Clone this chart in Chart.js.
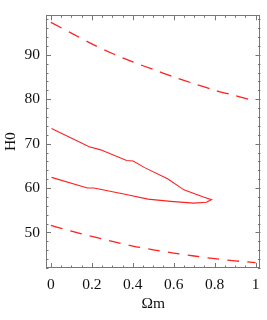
<!DOCTYPE html>
<html>
<head>
<meta charset="utf-8">
<script src="https://cdn.jsdelivr.net/npm/chart.js@4/dist/chart.umd.min.js"></script>
<style>
html,body{margin:0;padding:0;background:#fff;}
#c{display:block;}
</style>
</head>
<body>
<canvas id="c" width="267" height="320"></canvas>
<script>
// ---- data ----
const omegaGrid = [0, 0.1, 0.2, 0.3, 0.4, 0.5, 0.6, 0.7, 0.8, 0.9, 1.0];
const h0UpperBound = [97.3, 94.9, 92.45, 90.3, 88.4, 86.7, 85.0, 83.5, 82.05, 80.8, 79.6];
const h0LowerBound = [51.6, 50.3, 49.1, 48.0, 46.95, 46.1, 45.35, 44.7, 44.1, 43.6, 43.2];

// closed confidence contour (upper branch then lower branch back)
const contourOmega = [0.003, 0.187, 0.243, 0.37, 0.402, 0.458, 0.57, 0.65, 0.745, 0.785, 0.76, 0.697, 0.585, 0.474, 0.362, 0.21, 0.178, 0.003];
const contourH0    = [73.4, 69.3, 68.6, 66.2, 66.1, 64.6, 62.1, 59.6, 58.0, 57.4, 56.8, 56.6, 57.0, 57.5, 58.6, 60.0, 60.0, 62.4];

const xTickValues = [0, 0.2, 0.4, 0.6, 0.8, 1];
const xTickLabels = ['0', '0.2', '0.4', '0.6', '0.8', '1'];
const yTickValues = [50, 60, 70, 80, 90];
const yTickLabels = ['50', '60', '70', '80', '90'];

const xTitle = 'Ωm';
const yTitle = 'H0';

const toPts = (xs, ys) => xs.map((x, i) => ({x: x, y: ys[i]}));

const FONT = 'Liberation Serif';
const FSIZE = 15.5;
const RED = '#ff2020';

const framePlugin = {
  id: 'frame',
  afterDatasetsDraw(chart) {
    const {ctx, chartArea: a, scales} = chart;
    const xs = scales.x, ys = scales.y;
    ctx.save();
    ctx.strokeStyle = '#777';
    ctx.lineWidth = 1;
    ctx.beginPath();
    // x ticks (major every 0.2, minor every 0.05)
    for (let i = 0; i <= 20; i++) {
      const v = i * 0.05;
      const len = (i % 4 === 0) ? 5 : 2.5;
      const px = Math.round(xs.getPixelForValue(v)) + 0.5;
      ctx.moveTo(px, a.bottom); ctx.lineTo(px, a.bottom - len);
      ctx.moveTo(px, a.top); ctx.lineTo(px, a.top + len);
    }
    // y ticks (major every 10, minor every 2)
    for (let v = 42; v <= 98; v += 2) {
      const len = (v % 10 === 0) ? 5 : 2.5;
      const py = Math.round(ys.getPixelForValue(v)) + 0.5;
      ctx.moveTo(a.left, py); ctx.lineTo(a.left + len, py);
      ctx.moveTo(a.right, py); ctx.lineTo(a.right - len, py);
    }
    ctx.stroke();
    ctx.strokeRect(Math.round(a.left) + 0.5, Math.round(a.top) + 0.5,
                   Math.round(a.right - a.left) - 1, Math.round(a.bottom - a.top) - 1);
    ctx.restore();
  }
};

new Chart(document.getElementById('c'), {
  type: 'scatter',
  data: {
    datasets: [
      {data: toPts(omegaGrid, h0UpperBound), showLine: true, borderColor: RED, borderWidth: 1.3,
       borderDash: [12, 8], pointRadius: 0, tension: 0.3, fill: false},
      {data: toPts(omegaGrid, h0LowerBound), showLine: true, borderColor: RED, borderWidth: 1.3,
       borderDash: [12, 8], pointRadius: 0, tension: 0.3, fill: false},
      {data: toPts(contourOmega, contourH0), showLine: true, borderColor: RED, borderWidth: 1.1,
       pointRadius: 0, tension: 0, fill: false}
    ]
  },
  options: {
    responsive: false,
    animation: false,
    events: [],
    layout: {padding: {top: 5, right: 2, left: 0, bottom: 0}},
    plugins: {legend: {display: false}, tooltip: {enabled: false}},
    scales: {
      x: {
        type: 'linear', min: -0.024, max: 1.024,
        afterFit(s) { s.height = 52; },
        afterBuildTicks(s) { s.ticks = xTickValues.map(v => ({value: v})); },
        grid: {display: false, drawTicks: false},
        border: {display: false},
        ticks: {
          padding: 7.5, color: '#111', maxRotation: 0, autoSkip: false,
          font: {family: FONT, size: FSIZE},
          callback: (v) => xTickLabels[xTickValues.indexOf(v)] ?? ''
        },
        title: {display: true, text: xTitle, color: '#111', font: {family: FONT, size: FSIZE},
                padding: {top: 0, bottom: 6.5}}
      },
      y: {
        type: 'linear', min: 42.0, max: 98.9,
        afterFit(s) { s.width = 46; },
        afterBuildTicks(s) { s.ticks = yTickValues.map(v => ({value: v})); },
        grid: {display: false, drawTicks: false},
        border: {display: false},
        ticks: {
          padding: 6, color: '#111', autoSkip: false,
          font: {family: FONT, size: FSIZE},
          callback: (v) => yTickLabels[yTickValues.indexOf(v)] ?? ''
        },
        title: {display: true, text: yTitle, color: '#111', font: {family: FONT, size: FSIZE},
                padding: {top: 2, bottom: 0}}
      }
    }
  },
  plugins: [framePlugin]
});
</script>
</body>
</html>
